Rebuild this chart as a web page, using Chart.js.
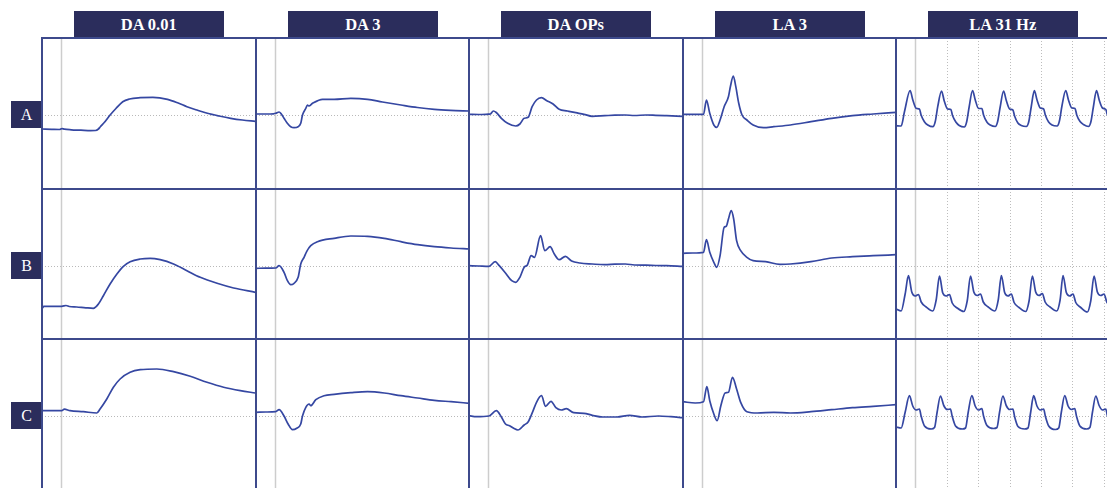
<!DOCTYPE html>
<html>
<head>
<meta charset="utf-8">
<script src="https://cdn.jsdelivr.net/npm/chart.js@4.4.0/dist/chart.umd.min.js"></script>
<style>
  body { margin: 0; width: 1107px; height: 488px; overflow: hidden; background: #fff; position: relative;
         font-family: "Liberation Serif", "DejaVu Serif", serif; }
  .head { position: absolute; top: 11px; height: 27px; width: 150px; background: #2b2d5c; color: #fff;
          font-weight: bold; font-size: 16.5px; line-height: 28px; text-align: center; }
  .rowlab { position: absolute; left: 11px; width: 31px; height: 27px; background: #2b2d5c; color: #fff;
            font-size: 16px; line-height: 28px; text-align: center; }
  .panel { position: absolute; }
  .rule { position: absolute; background: #3d4a8c; z-index: 2; }
</style>
</head>
<body>
<script>
// time axis in ms (stimulus at 0), amplitude relative to baseline
const columns = ['DA 0.01', 'DA 3', 'DA OPs', 'LA 3', 'LA 31 Hz'];
const rows = ['A', 'B', 'C'];
const timeRange = [-20, 200];
const ampRange = [-74, 77];
const stimulus = [0];
const flickerStimuli = [0, 32.26, 64.52, 96.77, 129.03, 161.29, 193.55];

// row A
const daDimA = [[-20,-14],[-10,-14.3],[-2,-14.5],[0.6,-13.6],[3,-14.2],[10,-14.8],[20,-15.2],[30,-15.6],[35,-15.5],[38,-14],[40,-11.7],[44,-7.5],[50,0],[56,6.5],[63,13.3],[70,16],[81,17.3],[94,17.7],[109,15.7],[120,12],[129,8.3],[140,4.7],[150,1.7],[162,-1],[174,-3.3],[186,-5],[199.4,-6.3]];
const daBrightA = [[-20,1],[-10,1],[-2,1.2],[0.3,1.7],[3.7,3],[6,1],[8.8,-3.3],[12,-8],[15.7,-11.7],[19.1,-12.7],[23.3,-11.7],[26,-8.3],[27.8,0],[31.2,6.7],[32.9,10],[34.3,9],[38.1,11.7],[48.4,15.7],[60.3,15.7],[77.5,16.7],[94.7,15.7],[110,13],[129,10],[146,7.5],[163.3,5.7],[180,4.7],[199.4,4]];
const opsA = [[-20,0.7],[-10,0.5],[0,0.8],[2,1],[5,4],[8,2.5],[13.3,-3.3],[19.7,-8.3],[28.1,-11],[32.3,-9],[36.7,-3.3],[40.8,-2.3],[44.9,8.3],[49.4,15],[54.5,17.3],[60,14.3],[66.4,11],[72.7,5.7],[81.2,4],[89.8,2.3],[98.2,0.7],[106.7,-1.3],[119.5,-0.7],[130,-0.2],[140.7,0],[150,-0.5],[162,0],[172,-0.3],[183.3,-0.7],[199.4,-1.3]];
const laA = [[-20,0.7],[-10,0.7],[1.1,0.7],[4.1,15],[7.5,1.7],[11.7,-10],[14.7,-12.3],[18.1,-5],[22.3,8.3],[26.7,18.3],[28.7,28.3],[31.7,39],[34.3,28.3],[37.3,11.7],[40.7,0],[45.7,-5],[52.1,-10],[62.7,-12.7],[73.4,-11.7],[90.4,-10],[111.6,-6.7],[132.9,-3.3],[154.1,-0.7],[175.4,1],[198.8,2.7]];
const flickA = [[-20,-10.7],[-14.7,-11],[-11.3,3.3],[-5.5,24.3],[-2.7,15],[0.7,6.7],[4.1,6],[5.8,0],[9.2,-6.7],[12.7,-10],[17.9,-11.7],[20.3,-6.7],[22.9,8.3],
  [26.8,24],[29.6,14],[33,6],[36.4,5.5],[38.1,-0.5],[41.5,-7],[45,-10.5],[50.2,-12],[52.6,-7],[55.2,8],
  [58.7,24.5],[61.5,15],[64.9,6.5],[68.3,6.5],[70,0],[73.4,-7],[76.9,-10],[82.1,-11.5],[84.5,-6.5],[87.1,8],
  [90.6,24],[93.4,14.5],[96.8,6],[100.2,5],[101.9,-1],[105.3,-8],[108.8,-10.5],[114,-11.5],[116.4,-7],[119,8],
  [122.2,24.3],[125,15],[128.4,7],[131.8,6],[133.5,0],[136.9,-7],[140.4,-10],[145.6,-11],[148,-6],[150.6,9],
  [154.5,24.5],[157.3,15],[160.7,7],[164.1,6.5],[165.8,0],[169.2,-6.5],[172.7,-9.5],[177.9,-11.5],[180.3,-7],[182.9,8],
  [186.1,24.5],[188.9,15],[192.3,7],[195.7,5.5],[197.4,0],[200,-4]];

// row B
const daDimB = [[-20,-30],[-19.6,-42],[-18,-40.3],[-10,-40.3],[0.3,-40.3],[4.7,-39.5],[8,-40.5],[15.7,-41],[25,-41.8],[32.8,-42.3],[38,-38],[43.1,-29.7],[50,-18],[57,-8],[63.7,-0.3],[70.6,4.3],[81,7],[91.2,7.7],[101.5,6.3],[115.2,2],[129,-4.7],[142.7,-11.3],[160,-17.3],[177,-22],[199.4,-26.3]];
const daBrightB = [[-20,-2.3],[-10,-2.2],[0.3,-2],[3.7,0.3],[8.8,-6.3],[12.3,-14.7],[15.7,-18.7],[19.1,-17.3],[23.3,-11.3],[26,2],[29.4,8.7],[32.2,14.7],[36.3,20.3],[43.2,24.3],[60.3,27.7],[77.5,30],[94.7,29.7],[111.8,27.7],[129,24.3],[146.2,21.3],[163.3,19.3],[180.5,18],[199.4,17]];
const opsB = [[-20,0.3],[-10,0],[0.5,-0.3],[6.9,4.3],[11.1,0.3],[17.5,-7],[23.9,-14.7],[28.1,-16.3],[32.3,-11.3],[36.7,-1.3],[40,1],[43.9,10.3],[47.3,8.7],[53.6,30.3],[57.9,15.3],[63.4,19.3],[67.7,12],[72.7,6.3],[79.1,9.7],[85.5,5],[94,3],[106.8,2],[119.5,1.3],[130,1.8],[140.8,2],[150,1],[162,0.8],[172,0.5],[183.3,0.3],[199.4,-0.3]];
const laB = [[-20,12.7],[-10,13],[1.1,13.7],[4.1,26.3],[7.5,13.7],[11.7,3.7],[14.7,-1.3],[18.1,10.3],[22.3,38.7],[24.5,39.7],[26.7,47],[29.6,55.3],[32.1,47],[35.1,25.3],[39.3,15.3],[45.7,8.7],[52.1,5.3],[64.9,4.3],[79.7,1.7],[90.4,2],[111.6,4.3],[132.9,8],[154.2,9.3],[175.4,10.3],[198.8,11.3]];
const flickB = [[-20,-43],[-14.7,-45],[-10.6,-28],
  [-7.2,-9.7],[-3.8,-26],[-0.3,-30],[3.1,-28.5],[5.9,-36],[11,-41],[17.8,-45],[21.3,-34],
  [24.7,-10],[28.1,-27],[31.6,-30],[35,-28.5],[37.8,-37],[42.9,-42],[49.7,-45.5],[53.2,-35],
  [56.6,-10],[60,-26],[63.5,-29.5],[66.9,-28],[69.7,-36],[74.8,-41],[81.6,-45],[85.1,-34],
  [88.3,-9.5],[91.7,-26.5],[95.2,-30],[98.6,-28],[101.4,-36.5],[106.5,-41.5],[113.3,-45.5],[116.8,-35],
  [120.2,-10],[123.6,-26],[127.1,-29.5],[130.5,-27.5],[133.3,-36],[138.4,-41],[145.2,-45],[148.7,-34],
  [151.7,-9.5],[155.1,-26.5],[158.6,-30],[162,-28],[164.8,-36.5],[169.9,-41.5],[176.7,-46],[180.2,-35],
  [183.6,-10],[187,-26],[190.5,-29.5],[193.9,-28],[196.7,-36],[200,-39]];

// row C
const daDimC = [[-20,5.3],[-10,5.3],[0.3,5.3],[3,6.8],[8.8,5.3],[22.5,4.3],[36.3,3],[39.7,7],[46.6,17],[53.4,28.7],[60.3,37],[70.6,43.7],[81,46.3],[98.1,47],[115.2,44.3],[132.4,39.7],[149.6,33.7],[166.7,28.7],[183.9,25.3],[199.4,23]];
const daBrightC = [[-20,3.7],[-10,4],[0.3,4.3],[3.7,6.3],[8.8,0],[13,-8],[17.5,-13.7],[21.9,-12.3],[26,-8],[27.8,0],[31.2,8.7],[34.6,12],[36.3,10.3],[41.5,16.3],[50,20.3],[60.3,21.7],[77.5,23.3],[94.7,24.3],[111.8,23],[129,20.3],[146.2,18],[163.3,15.7],[180.5,14.3],[199.4,12.7]];
const opsC = [[-20,0.3],[-12.3,-0.7],[0.5,0],[8.1,5.3],[13.3,-1],[17.5,-8],[21.7,-9.7],[26,-12.3],[30.3,-14],[36.7,-9],[40.9,-5.7],[45.1,3.3],[49.4,13.7],[54.5,20.3],[58.7,9.7],[64.3,14.7],[69.3,8.3],[74.9,6],[80,7.3],[87.6,3.3],[98.2,2.7],[106.8,0.7],[117.4,-1],[132.2,-1],[145,0.7],[157.8,-1],[174.8,0],[187.6,-0.7],[199.4,-1.7]];
const laC = [[-20,14.3],[-7.4,13],[1.1,14.3],[4.5,29.3],[7.5,15.3],[11.7,2],[15.1,-4.7],[18.9,10.3],[23.3,23],[26.7,23.7],[30.9,38.7],[35.1,27],[39.3,13.7],[45.7,4.3],[56.4,3],[73.4,3.7],[90.4,3],[111.6,4.3],[132.9,6.3],[154.2,8.3],[175.4,9.7],[198.8,11.3]];
const flickC = [[-20,-11],[-14.7,-12],[-10.6,3.7],
  [-6.2,20.3],[-2.8,10],[0.7,6],[4.1,7],[5.8,0],[9.3,-10],[16.2,-13],[19.6,-11.5],[22.3,4],
  [25.7,20],[29.1,10.5],[32.6,6.5],[36,7],[37.7,0],[41.2,-10],[48.1,-13],[51.5,-12],[54.2,3.5],
  [58,20.5],[61.4,10],[64.9,6],[68.3,7.5],[70,0],[73.5,-9.5],[80.4,-12.5],[83.8,-11.5],[86.5,4],
  [89.9,20],[93.3,10.5],[96.8,6.5],[100.2,7],[101.9,-0.5],[105.4,-10.5],[112.3,-13],[115.7,-12],[118.4,3.5],
  [121.5,20.3],[124.9,10],[128.4,6],[131.8,7],[133.5,0],[137,-10],[143.9,-13.5],[147.3,-12],[150,4],
  [153.5,20.5],[156.9,10],[160.4,6.5],[163.8,7.5],[165.5,0],[169,-10],[175.9,-13],[179.3,-11.5],[182,4],
  [185.4,20],[188.8,10.5],[192.3,6],[195.7,7],[197.4,0],[200,-6]];

const traces = [
  [daDimA, daBrightA, opsA, laA, flickA],
  [daDimB, daBrightB, opsB, laB, flickB],
  [daDimC, daBrightC, opsC, laC, flickC]
];

const panelLeft = 42, panelTop = 38, panelW = 213.6, panelH = 150.7;

// baseline (dotted) and stimulus markers, placed through the chart scales
const refLines = {
  id: 'refLines',
  beforeDatasetsDraw(chart, args, opts) {
    const { ctx, chartArea: a, scales: { x, y } } = chart;
    ctx.save();
    const y0 = Math.round(y.getPixelForValue(0)) + 0.5;
    ctx.strokeStyle = '#b9b9b9';
    ctx.lineWidth = 1;
    ctx.setLineDash([1, 2]);
    ctx.beginPath(); ctx.moveTo(a.left, y0); ctx.lineTo(a.right, y0); ctx.stroke();
    opts.marks.forEach((t, i) => {
      const px = Math.round(x.getPixelForValue(t)) + 0.5;
      ctx.beginPath();
      if (i === 0) { ctx.setLineDash([]); ctx.strokeStyle = '#cdcdcd'; ctx.lineWidth = 1.5; }
      else { ctx.setLineDash([1, 2]); ctx.strokeStyle = '#bdbdbd'; ctx.lineWidth = 1; }
      ctx.moveTo(px, a.top); ctx.lineTo(px, a.bottom); ctx.stroke();
    });
    ctx.restore();
  }
};

columns.forEach((name, c) => {
  const left = Math.round(panelLeft + c * panelW);
  const h = document.createElement('div');
  h.className = 'head';
  h.style.left = (left + (panelW - 150) / 2) + 'px';
  h.textContent = name;
  document.body.appendChild(h);
});

rows.forEach((name, r) => {
  const top = Math.round(panelTop + r * panelH);
  const lab = document.createElement('div');
  lab.className = 'rowlab';
  lab.style.top = (top + 63) + 'px';
  lab.textContent = name;
  document.body.appendChild(lab);

  columns.forEach((col, c) => {
    const left = Math.round(panelLeft + c * panelW);
    const div = document.createElement('div');
    div.className = 'panel';
    div.style.left = left + 'px';
    div.style.top = top + 'px';
    const canvas = document.createElement('canvas');
    canvas.width = 214;
    canvas.height = 151;
    div.appendChild(canvas);
    document.body.appendChild(div);

    new Chart(canvas.getContext('2d'), {
      type: 'line',
      data: {
        datasets: [{
          data: traces[r][c].map(([t, v]) => ({ x: t, y: v })),
          borderColor: '#3547a2',
          borderWidth: 1.7,
          pointRadius: 0,
          cubicInterpolationMode: 'monotone',
          fill: false
        }]
      },
      options: {
        responsive: false,
        animation: false,
        events: [],
        layout: { padding: 0 },
        plugins: {
          legend: { display: false },
          tooltip: { enabled: false },
          refLines: { marks: col === 'LA 31 Hz' ? flickerStimuli : stimulus }
        },
        scales: {
          x: { type: 'linear', min: timeRange[0], max: timeRange[1], display: false },
          y: { min: ampRange[0], max: ampRange[1], display: false }
        }
      },
      plugins: [refLines]
    });
  });
});

// panel frame
for (let c = 0; c < columns.length; c++) {
  const v = document.createElement('div');
  v.className = 'rule';
  v.style.left = (Math.round(panelLeft + c * panelW) - 1) + 'px';
  v.style.top = (panelTop - 1) + 'px';
  v.style.width = '2px';
  v.style.height = '460px';
  document.body.appendChild(v);
}
for (let r = 0; r < rows.length; r++) {
  const hr = document.createElement('div');
  hr.className = 'rule';
  hr.style.left = (panelLeft - 1) + 'px';
  hr.style.top = (Math.round(panelTop + r * panelH) - 1) + 'px';
  hr.style.width = '1080px';
  hr.style.height = '2px';
  document.body.appendChild(hr);
}
</script>
</body>
</html>
